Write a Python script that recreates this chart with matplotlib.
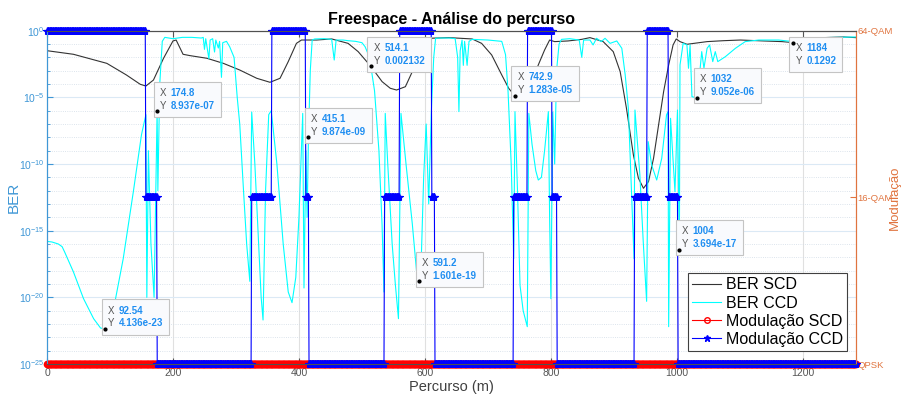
import matplotlib
matplotlib.use("Agg")
import matplotlib.pyplot as plt
import numpy as np
from matplotlib.lines import Line2D
from matplotlib.offsetbox import AnnotationBbox, HPacker, TextArea, VPacker
from matplotlib.ticker import FixedLocator, LogFormatterSciNotation, NullFormatter

plt.rcParams['font.family'] = ['Liberation Sans', 'DejaVu Sans']
plt.rcParams['mathtext.default'] = 'regular'

# BER sem codificação (SCD): percurso (m) e expoente log10(BER)
ber_scd_x = [0, 42, 95, 126, 148, 157, 169, 185, 200, 205, 216, 227, 254, 280, 306, 333, 354,
             370, 383, 396, 404, 428, 452, 478, 494, 532, 545, 555, 569, 580, 585, 595, 606,
             638, 675, 690, 706, 722, 733, 759, 769, 780, 790, 798, 806, 827, 849, 862, 883,
             899, 910, 920, 931, 939, 947, 955, 963, 971, 979, 987, 994, 999, 1005, 1016,
             1048, 1074, 1101, 1138, 1167, 1206, 1233, 1265, 1284]
ber_scd_exp = [-1.50, -1.77, -2.45, -3.32, -4.02, -4.15, -3.70, -2.07, -0.77, -0.70, -1.77,
               -1.87, -2.07, -2.45, -2.95, -3.57, -3.87, -3.57, -2.32, -0.95, -0.70, -0.70,
               -0.62, -0.95, -1.57, -3.82, -4.32, -4.45, -4.20, -3.07, -2.07, -0.70, -0.57,
               -0.52, -0.62, -0.95, -1.82, -3.32, -4.32, -4.87, -3.95, -2.57, -1.45, -0.70,
               -0.82, -0.77, -0.65, -0.52, -0.82, -1.57, -3.07, -5.82, -9.32, -11.07, -11.82,
               -11.32, -9.57, -7.07, -4.57, -2.57, -1.07, -0.62, -0.82, -1.02, -0.82, -0.75,
               -0.70, -0.77, -0.82, -0.70, -0.52, -0.47, -0.52]

# BER com codificação (CCD)
ber_ccd_x = [0, 8, 18, 24, 28, 42, 58, 74, 85, 100, 106, 121, 137, 150, 157, 158.5, 161, 165,
             170, 176, 179, 183, 187, 200, 215, 230, 245, 248, 250, 252, 257, 259, 263, 266,
             268, 272, 274, 277, 279, 285, 290, 297, 302, 306, 312, 317, 322, 325, 330, 336,
             340, 343, 347, 352, 356, 365, 375, 383, 389, 395, 400, 404, 406, 408, 411, 413,
             418, 421, 425, 440, 452, 456, 459, 470, 478, 490, 500, 505, 512, 520, 527, 532,
             535, 537, 541, 548, 553, 558, 562, 570, 580, 587, 594, 598, 602, 606, 610, 614,
             617, 625, 640, 648, 652, 654, 656, 659, 661, 663, 667, 670, 675, 700, 722, 728,
             732, 737, 741, 743, 747, 751, 756, 762.5, 765, 770, 776, 780, 785, 790, 796, 798,
             800, 803, 806, 809, 813, 817, 830, 845, 849, 852, 862, 867, 872.5, 880, 886,
             894, 904.6, 912.6, 918, 923, 932, 933.5, 941.3, 946.6, 952, 954.5, 960, 968,
             976, 983.6, 986, 987, 990, 997, 1001, 1005, 1010, 1016, 1018.5, 1021, 1024,
             1036, 1039.5, 1043, 1048, 1052, 1057, 1061, 1065, 1077, 1093, 1108.5, 1130,
             1161.6, 1185, 1233, 1284]
ber_ccd_exp = [-15.80, -15.85, -16.00, -16.20, -16.60, -18.10, -20.10, -21.60, -22.30, -21.80,
               -20.80, -17.10, -12.10, -7.80, -6.30, -20.00, -9.00, -16.00, -20.00, -12.00,
               -4.00, -0.80, -0.50, -0.60, -0.50, -0.50, -0.55, -0.50, -1.40, -0.60, -2.10,
               -0.70, -0.60, -1.60, -0.70, -1.30, -0.80, -3.50, -0.90, -0.80, -1.20, -2.00,
               -5.00, -7.00, -12.00, -16.00, -18.80, -6.10, -10.00, -16.00, -20.00, -21.70,
               -12.00, -6.30, -6.00, -10.00, -16.00, -19.60, -20.40, -18.50, -14.00, -8.70,
               -6.20, -19.30, -9.00, -14.00, -3.00, -0.70, -0.62, -0.60, -0.65, -2.20, -0.70,
               -0.70, -0.75, -0.80, -0.90, -1.20, -2.00, -4.50, -9.00, -14.60, -19.60, -6.20,
               -10.00, -16.00, -19.00, -21.60, -6.20, -10.00, -14.50, -18.20, -17.50, -11.00,
               -7.00, -13.00, -6.30, -2.00, -0.57, -0.55, -0.55, -0.60, -2.00, -6.07, -1.50,
               -0.70, -2.60, -0.80, -2.60, -0.80, -0.65, -0.70, -0.80, -1.80, -4.57, -10.00,
               -17.10, -6.07, -12.00, -19.10, -21.00, -22.20, -6.20, -8.50, -10.50, -11.20,
               -11.00, -9.00, -6.07, -14.00, -20.10, -6.10, -10.00, -3.00, -1.00, -0.65,
               -0.60, -0.70, -2.00, -0.70, -0.70, -1.07, -0.57, -0.82, -0.57, -0.95, -0.77,
               -1.32, -3.32, -5.82, -17.10, -5.95, -10.82, -15.80, -20.30, -8.32, -10.07,
               -11.20, -9.57, -6.32, -6.07, -22.20, -6.57, -12.07, -5.95, -2.57, -0.95, -1.07,
               -2.82, -1.07, -4.95, -3.32, -1.57, -2.82, -1.32, -1.07, -2.32, -1.57, -2.32,
               -1.95, -1.32, -0.82, -0.70, -0.70, -0.82, -0.52, -0.47]

# Data tips (percurso, BER)
tips_scd_x = [514.1, 742.9, 1184]
tips_scd_y = [0.002132, 1.283e-05, 0.1292]
tips_ccd_x = [92.54, 174.8, 415.1, 591.2, 1004, 1032]
tips_ccd_y = [4.136e-23, 8.937e-07, 9.874e-09, 1.601e-19, 3.694e-17, 9.052e-06]

# Modulação (bits/símbolo): QPSK=2, 16-QAM=4, 64-QAM=6
mod_names = ['QPSK', '16-QAM', '64-QAM']
mod_bits = [2, 4, 6]
mod_ccd_edges = [0, 157, 175, 325, 357, 410.6, 415.4, 535.4, 560, 610.6, 615.8, 741, 762.4,
                 802, 809.5, 932.3, 953, 987, 1001.6, 1284]
mod_ccd_levels = [6, 4, 2, 4, 6, 4, 2, 4, 6, 4, 2, 4, 6, 4, 2, 4, 6, 4, 2]
mod_scd_level = 2
x_max = 1284
x_step = 1.0

BLUE_AX = '#3f97d6'
ORANGE_AX = '#e0743f'
GREY = '#555555'


def merge_tips(xs, exps, tx, ty):
    x = np.concatenate([np.asarray(xs, float), np.asarray(tx, float)])
    y = np.concatenate([10.0 ** np.asarray(exps, float), np.asarray(ty, float)])
    order = np.argsort(x, kind='stable')
    return x[order], y[order]


scd_x, scd_y = merge_tips(ber_scd_x, ber_scd_exp, tips_scd_x, tips_scd_y)
ccd_x, ccd_y = merge_tips(ber_ccd_x, ber_ccd_exp, tips_ccd_x, tips_ccd_y)

pos = np.arange(0, x_max + x_step, x_step)
seg = np.clip(np.searchsorted(mod_ccd_edges, pos, side='right') - 1, 0, len(mod_ccd_levels) - 1)
mod_ccd = np.asarray(mod_ccd_levels)[seg]
mod_scd = np.full_like(pos, mod_scd_level)

fig = plt.figure(figsize=(9.04, 3.96), dpi=100)
ax = fig.add_axes([0.052, 0.0808, 0.8946, 0.8417])
ax2 = ax.twinx()

ax.semilogy(scd_x, scd_y, color='#333333', lw=0.8)
ax.semilogy(ccd_x, ccd_y, color='#00ffff', lw=0.8)

ax2.plot(pos, mod_scd, color='red', lw=0.8, marker='o', ms=4.5, mfc='none', mew=1.0, clip_on=False)
ax2.plot(pos, mod_ccd, color='blue', lw=0.8, marker='*', ms=6, mew=0.8, clip_on=False)

ax.set_xlim(0, x_max)
ax.set_ylim(1e-25, 1)
ax2.set_ylim(2, 6)

# eixo esquerdo (BER)
ax.yaxis.set_major_locator(FixedLocator([10.0 ** k for k in range(-25, 1, 5)]))
ax.yaxis.set_minor_locator(FixedLocator([10.0 ** k for k in range(-25, 1) if k % 5]))
ax.yaxis.set_major_formatter(LogFormatterSciNotation())
ax.yaxis.set_minor_formatter(NullFormatter())
ax.tick_params(axis='y', which='both', colors=BLUE_AX, direction='in', labelsize=7.5, pad=2)
ax.tick_params(axis='y', which='major', length=4)
ax.tick_params(axis='y', which='minor', length=2)
ax.tick_params(axis='x', colors=GREY, direction='in', labelsize=7.5, top=True, length=4, pad=3)
ax.set_xticks(range(0, 1201, 200))
ax.set_ylabel('BER', color=BLUE_AX, fontsize=11)
ax.yaxis.set_label_coords(-0.033, 0.5)
ax.set_xlabel('Percurso (m)', color='#404040', fontsize=10.5, labelpad=1)
ax.set_title('Freespace - Análise do percurso', fontsize=11.5, fontweight='bold', pad=5)

ax.grid(True, axis='x', color='#e0e0e0', lw=0.8)
ax.grid(True, axis='y', which='major', color='#dbe9f5', lw=0.8)
ax.grid(True, axis='y', which='minor', color='#d0dbe6', lw=0.6, ls=':')
ax.set_axisbelow(True)

# eixo direito (modulação)
ax2.set_yticks(mod_bits)
ax2.set_yticklabels(mod_names)
ax2.tick_params(axis='y', colors=ORANGE_AX, direction='in', labelsize=6.8, length=4, pad=1)
ax2.set_ylabel('Modulação', color=ORANGE_AX, fontsize=9.5)
ax2.yaxis.set_label_coords(1.0415, 0.5)

for a in (ax, ax2):
    a.spines['left'].set_color(BLUE_AX)
    a.spines['right'].set_color(ORANGE_AX)
    a.spines['top'].set_color('#505050')
    a.spines['bottom'].set_color('#505050')
    for s in a.spines.values():
        s.set_linewidth(0.8)


# caixas de data tip com X/Y
def data_tip(x, y, above=True):
    rows = []
    for key, val in (('X', f'{x:.4g}'), ('Y', f'{y:.4g}')):
        rows.append(HPacker(children=[
            TextArea(key, textprops=dict(color='#555555', fontsize=7)),
            TextArea(val, textprops=dict(color='#1f8ef1', fontsize=7, fontweight='bold')),
        ], sep=3, pad=0))
    box = VPacker(children=rows, sep=2, pad=0, align='left')
    ab = AnnotationBbox(box, (x, y), xycoords=ax.transData,
                        xybox=(2, 0.5 if above else -0.5), boxcoords='offset points',
                        box_alignment=(0, 0) if above else (0, 1), pad=0.45,
                        bboxprops=dict(facecolor='#f9fafd', edgecolor='#c4c4c4', lw=0.8))
    ab.set_zorder(6)
    ax2.add_artist(ab)
    ax2.plot([x], [y], 'o', color='black', ms=2, transform=ax.transData, zorder=7)


for tx, ty in zip(tips_scd_x, tips_scd_y):
    data_tip(tx, ty, above=tx < 1100)
for tx, ty in zip(tips_ccd_x, tips_ccd_y):
    data_tip(tx, ty)

handles = [
    Line2D([], [], color='#333333', lw=0.8),
    Line2D([], [], color='#00ffff', lw=0.8),
    Line2D([], [], color='red', lw=0.8, marker='o', ms=4, mfc='none'),
    Line2D([], [], color='blue', lw=0.8, marker='*', ms=5),
]
leg = ax2.legend(handles, ['BER SCD', 'BER CCD', 'Modulação SCD', 'Modulação CCD'],
                 loc='lower right', bbox_to_anchor=(0.989, 0.039), borderaxespad=0,
                 fontsize=11.5, labelspacing=0.2, borderpad=0.25, handlelength=1.8,
                 handletextpad=0.3, fancybox=False, framealpha=1, edgecolor='#404040',
                 numpoints=1)
leg.get_frame().set_linewidth(0.8)
leg.set_zorder(8)

fig.savefig('out.png', dpi=100)
